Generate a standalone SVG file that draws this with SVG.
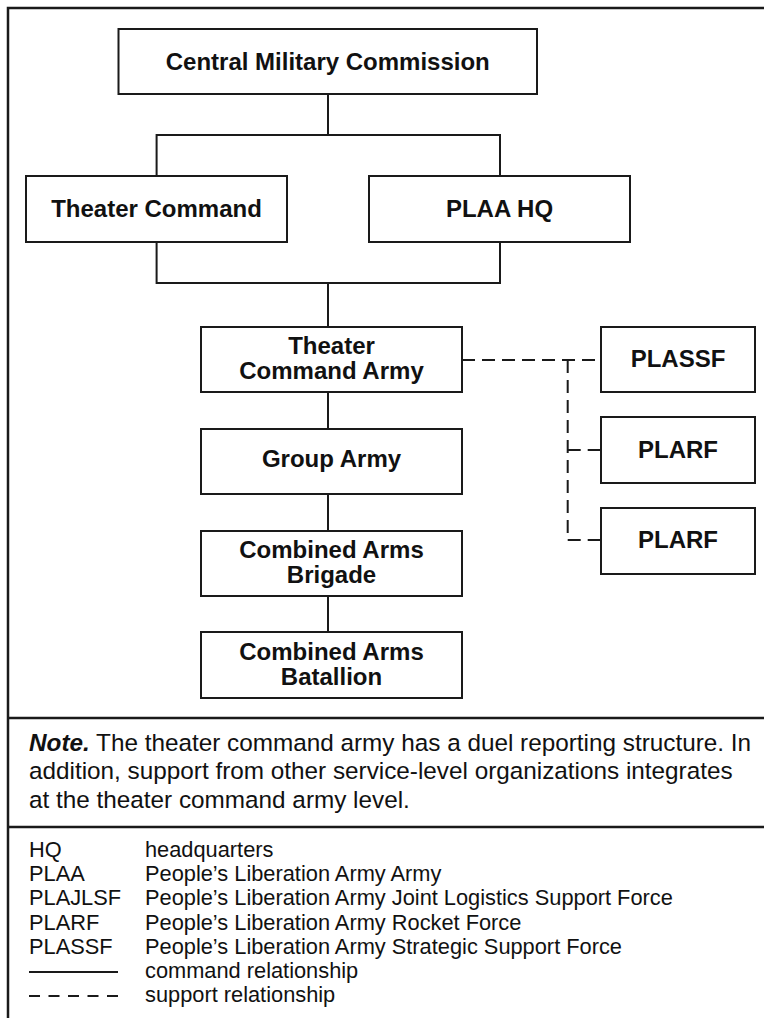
<svg xmlns="http://www.w3.org/2000/svg" width="764" height="1018" viewBox="0 0 764 1018">
<style>
.box{fill:#fff;stroke:#1a1a1a;stroke-width:2}
.n{font-family:"Liberation Sans",Arial,sans-serif;font-weight:bold;font-size:24px;fill:#111;text-anchor:middle}
.c{fill:none;stroke:#1a1a1a;stroke-width:2}
.d{fill:none;stroke:#1a1a1a;stroke-width:2;stroke-dasharray:13 7}
.note{font-family:"Liberation Sans",Arial,sans-serif;font-size:24.3px;fill:#111}
.lg{font-family:"Liberation Sans",Arial,sans-serif;font-size:21.8px;fill:#111}
</style>
<rect x="0" y="0" width="764" height="1018" fill="#fff"/>
<rect x="8" y="8" width="770" height="1020" fill="none" stroke="#1a1a1a" stroke-width="2.5"/>
<g id="connectors">
<path class="c" d="M328 94V135M156.6 176V135H500V176"/>
<path class="c" d="M156.6 242V283H500V242M328 283V327"/>
<path class="c" d="M328 392V429M328 494V531M328 596V632"/>
<path class="d" d="M462 360H601"/>
<path class="d" d="M567.7 360V540H601"/>
<path class="d" d="M567.7 450H601"/>
</g>
<g id="cmc"><rect class="box" x="118.5" y="29" width="418.5" height="65"/><text class="n" x="327.75" y="70">Central Military Commission</text></g>
<g id="theater-command"><rect class="box" x="26" y="176" width="261" height="66"/><text class="n" x="156.5" y="217">Theater Command</text></g>
<g id="plaa-hq"><rect class="box" x="369" y="176" width="261" height="66"/><text class="n" x="499.5" y="217">PLAA HQ</text></g>
<g id="theater-command-army"><rect class="box" x="201" y="327" width="261" height="65"/><text class="n" x="331.5" y="354">Theater</text><text class="n" x="331.5" y="379">Command Army</text></g>
<g id="group-army"><rect class="box" x="201" y="429" width="261" height="65"/><text class="n" x="331.5" y="467">Group Army</text></g>
<g id="brigade"><rect class="box" x="201" y="531" width="261" height="65"/><text class="n" x="331.5" y="558">Combined Arms</text><text class="n" x="331.5" y="583">Brigade</text></g>
<g id="batallion"><rect class="box" x="201" y="632" width="261" height="66"/><text class="n" x="331.5" y="660">Combined Arms</text><text class="n" x="331.5" y="685">Batallion</text></g>
<g id="plassf"><rect class="box" x="601" y="327" width="154" height="65"/><text class="n" x="678" y="367">PLASSF</text></g>
<g id="plarf1"><rect class="box" x="601" y="417" width="154" height="66"/><text class="n" x="678" y="458">PLARF</text></g>
<g id="plarf2"><rect class="box" x="601" y="508" width="154" height="66"/><text class="n" x="678" y="548">PLARF</text></g>
<line x1="8" y1="718" x2="764" y2="718" stroke="#1a1a1a" stroke-width="2.5"/>
<g id="note">
<text class="note" x="29" y="751"><tspan font-weight="bold" font-style="italic">Note.</tspan> The theater command army has a duel reporting structure. In</text>
<text class="note" x="29" y="779">addition, support from other service-level organizations integrates</text>
<text class="note" x="29" y="808">at the theater command army level.</text>
</g>
<line x1="8" y1="827" x2="764" y2="827" stroke="#1a1a1a" stroke-width="2.5"/>
<g id="legend">
<text class="lg" x="29" y="857">HQ</text><text class="lg" x="145" y="857">headquarters</text>
<text class="lg" x="29" y="881">PLAA</text><text class="lg" x="145" y="881">People’s Liberation Army Army</text>
<text class="lg" x="29" y="905">PLAJLSF</text><text class="lg" x="145" y="905">People’s Liberation Army Joint Logistics Support Force</text>
<text class="lg" x="29" y="930">PLARF</text><text class="lg" x="145" y="930">People’s Liberation Army Rocket Force</text>
<text class="lg" x="29" y="954">PLASSF</text><text class="lg" x="145" y="954">People’s Liberation Army Strategic Support Force</text>
<line x1="29" y1="972" x2="118" y2="972" stroke="#1a1a1a" stroke-width="2"/><text class="lg" x="145" y="978">command relationship</text>
<line x1="29" y1="996" x2="118" y2="996" stroke="#1a1a1a" stroke-width="2" stroke-dasharray="11 8.5"/><text class="lg" x="145" y="1002">support relationship</text>
</g>
</svg>
